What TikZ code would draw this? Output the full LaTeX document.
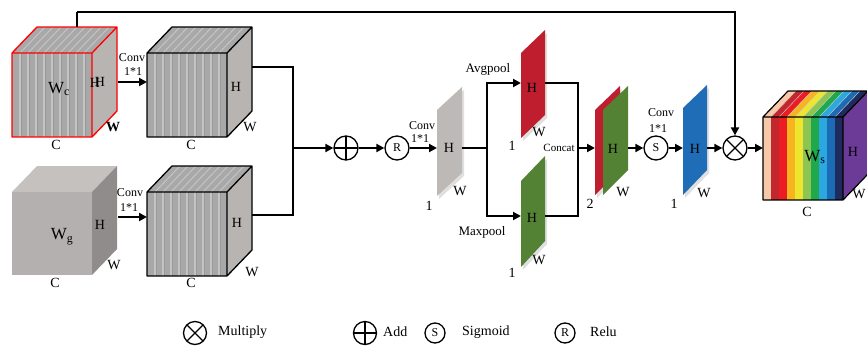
\documentclass[tikz,border=0pt]{standalone}
\usepackage{fontspec}
\setmainfont{Liberation Serif}
\usetikzlibrary{arrows.meta,shadows}

\definecolor{slicegray}{HTML}{A8A8A8}
\definecolor{slicelight}{HTML}{C4C4C4}
\definecolor{slicedark}{HTML}{9A9A9A}
\definecolor{sidegray}{HTML}{B7B4B2}
\definecolor{plainfront}{HTML}{B3B0AF}
\definecolor{plaintop}{HTML}{C4C1BF}
\definecolor{plainside}{HTML}{8F8C8B}
\definecolor{mapgray}{HTML}{BDB9B7}
\definecolor{poolred}{HTML}{BE1E2D}
\definecolor{poolgreen}{HTML}{548235}
\definecolor{convblue}{HTML}{1F6DB6}
\definecolor{peach}{HTML}{F7C9A9}
\definecolor{darkred}{HTML}{C1272D}
\definecolor{brightred}{HTML}{EC1C24}
\definecolor{amber}{HTML}{F6B51E}
\definecolor{lemon}{HTML}{EEE52E}
\definecolor{leaf}{HTML}{8DC553}
\definecolor{grass}{HTML}{1FA84C}
\definecolor{sky}{HTML}{2BA8E0}
\definecolor{ocean}{HTML}{1C6BB5}
\definecolor{navy}{HTML}{1F2B5E}
\definecolor{violet}{HTML}{6C3A97}

\begin{document}
\begin{tikzpicture}[x=1pt, y=-1pt,
    conn/.style={line width=2.4pt},
    flow/.style={line width=2.4pt, -{Triangle[length=8pt,width=8pt]}},
    op/.style={circle, draw, line width=1.3pt, minimum size=24pt, inner sep=0pt, fill=white,
               font=\fontsize{12}{12}\selectfont},
    mulop/.style={op, path picture={\draw[line width=1.2pt]
        (path picture bounding box.north west) -- (path picture bounding box.south east)
        (path picture bounding box.south west) -- (path picture bounding box.north east);}},
    addop/.style={op, path picture={\draw[line width=1.2pt]
        (path picture bounding box.north) -- (path picture bounding box.south)
        (path picture bounding box.west) -- (path picture bounding box.east);}},
    lbl/.style={font=\fontsize{14}{14}\selectfont, inner sep=0pt},
    small/.style={font=\fontsize{12}{12}\selectfont, inner sep=0pt},
    map/.style={drop shadow={opacity=0.25, shadow xshift=2pt, shadow yshift=-3pt}}]
    \useasboundingbox (0,0) rectangle (867,346);

    % Sliced cubes
    \foreach \x/\y/\edge in {12/53/red, 147/53/black, 147/192/black} {
        \fill[slicegray] (\x,\y) -- (\x+25,\y-26) -- (\x+105,\y-26) -- (\x+80,\y) -- cycle;
        \foreach \i in {1,...,9}
            \draw[slicelight, line width=1pt] (\x+8*\i,\y) -- (\x+8*\i+25,\y-26);
        \fill[sidegray] (\x+80,\y) -- (\x+105,\y-26) -- (\x+105,\y+58) -- (\x+80,\y+84) -- cycle;
        \fill[slicegray] (\x,\y) rectangle (\x+80,\y+84);
        \foreach \i in {1,...,9} {
            \draw[slicelight, line width=1.2pt] (\x+8*\i,\y) -- (\x+8*\i,\y+84);
            \draw[slicedark, line width=0.5pt] (\x+8*\i+1.3,\y) -- (\x+8*\i+1.3,\y+84);
        }
        \draw[\edge, line width=1.3pt, line join=round] (\x,\y) rectangle (\x+80,\y+84)
            (\x,\y) -- (\x+25,\y-26) -- (\x+105,\y-26) -- (\x+105,\y+58) -- (\x+80,\y+84)
            (\x+80,\y) -- (\x+105,\y-26);
    }

    % Plain cube
    \fill[plaintop] (12,192) -- (37,166) -- (117,166) -- (92,192) -- cycle;
    \fill[plainside] (92,192) -- (117,166) -- (117,249) -- (92,275) -- cycle;
    \fill[plainfront] (12,192) rectangle (92,275);

    % Cube labels
    \node[lbl, font=\fontsize{17}{17}\selectfont] (wc) at (59,89) {W\textsubscript{c}};
    \node[lbl] (wc-h) at (95,83) {H};
    \node[lbl] (wc-h2) at (100,82) {H};
    \node[lbl, font=\fontsize{14}{14}\selectfont\bfseries] (wc-w) at (113,127) {W};
    \node[lbl] (wc-c) at (56,145) {C};
    \node[lbl] (c2-h) at (236,87) {H};
    \node[lbl] (c2-w) at (250,127) {W};
    \node[lbl] (c2-c) at (191,145) {C};
    \node[lbl, font=\fontsize{17}{17}\selectfont] (wg) at (62,237) {W\textsubscript{g}};
    \node[lbl] (wg-h) at (100,225) {H};
    \node[lbl] (wg-w) at (114,265) {W};
    \node[lbl] (wg-c) at (55,283) {C};
    \node[lbl] (c4-h) at (237,223) {H};
    \node[lbl] (c4-w) at (252,272) {W};
    \node[lbl] (c4-c) at (191,283) {C};

    % Conv 1*1 on the inputs
    \node[small] (conv1) at (132,58) {Conv};
    \node[small] (k1) at (133,72) {1*1};
    \node[small] (conv2) at (130,193) {Conv};
    \node[small] (k2) at (129,208) {1*1};

    % Feature maps
    \fill[mapgray, map] (437,110) -- (462,87) -- (462,173) -- (437,196) -- cycle;
    \fill[poolred, map] (521,53) -- (545,30) -- (545,115) -- (521,138) -- cycle;
    \fill[poolgreen, map] (521,181) -- (545,156) -- (545,241) -- (521,267) -- cycle;
    \fill[poolred, map] (595,110) -- (620,86) -- (620,170) -- (595,195) -- cycle;
    \fill[poolgreen] (603,110) -- (628,86) -- (628,170) -- (603,195) -- cycle;
    \fill[convblue, map] (683,108) -- (707,85) -- (707,170) -- (683,195) -- cycle;

    \node[lbl] (grey-h) at (449,148) {H};
    \node[lbl] (grey-w-lbl) at (460,191) {W};
    \node[lbl] (grey-n) at (429,206) {1};
    \node[lbl] (avg-h) at (532,88) {H};
    \node[lbl] (avg-w) at (539,132) {W};
    \node[lbl] (avg-n) at (512,146) {1};
    \node[lbl] (max-h) at (532,218) {H};
    \node[lbl] (max-w) at (539,260) {W};
    \node[lbl] (max-n) at (512,273) {1};
    \node[lbl] (cat-h) at (613,149) {H};
    \node[lbl] (cat-w) at (623,192) {W};
    \node[lbl] (cat-n) at (590,204) {2};
    \node[lbl] (blue-h) at (695,149) {H};
    \node[lbl] (blue-w-lbl) at (704,193) {W};
    \node[lbl] (blue-n) at (674,204) {1};

    \node[small] (conv3) at (422,126) {Conv};
    \node[small] (k3) at (420,139) {1*1};
    \node[small, font=\fontsize{13}{13}\selectfont] (avgpool) at (488,69) {Avgpool};
    \node[small, font=\fontsize{13}{13}\selectfont] (maxpool) at (482,232) {Maxpool};
    \node[small, font=\fontsize{11}{11}\selectfont] (concat) at (559,148) {Concat};
    \node[small] (conv4) at (661,113) {Conv};
    \node[small] (k4) at (658,129) {1*1};

    % Rainbow cube
    \foreach \c [count=\i from 0] in {peach, darkred, brightred, amber, lemon, leaf, grass, sky, ocean, navy} {
        \fill[\c] (763+8*\i,117) -- (788+8*\i,91) -- (796+8*\i,91) -- (771+8*\i,117) -- cycle;
        \fill[\c] (763+8*\i,117) rectangle (771+8*\i,200);
        \draw[white!60!gray, line width=0.4pt] (763+8*\i,117) -- (788+8*\i,91);
    }
    \fill[violet] (843,117) -- (868,91) -- (868,174) -- (843,200) -- cycle;
    \draw[line width=1.2pt, line join=round] (763,117) rectangle (843,200)
        (763,117) -- (788,91) -- (868,91) (843,117) -- (868,91) (843,200) -- (868,174);
    \node[lbl, font=\fontsize{17}{17}\selectfont] (ws) at (815,157) {W\textsubscript{s}};
    \node[lbl] (ws-h) at (853,152) {H};
    \node[lbl] (ws-w) at (859,194) {W};
    \node[lbl] (ws-c) at (807,212) {C};

    % Operators
    \node[addop] (add) at (346,148) {};
    \node[op] (relu) at (397,148) {R};
    \node[op] (sig) at (656,148) {S};
    \node[mulop] (mul) at (735,148) {};

    % Connection points
    \coordinate (wc-out) at (118,82);
    \coordinate (c2-in) at (147,82);
    \coordinate (wg-out) at (118,217);
    \coordinate (c4-in) at (147,217);
    \coordinate (c2-out) at (252,67);
    \coordinate (c4-out) at (252,215);
    \coordinate (merge) at (293,148);
    \coordinate (grey-w) at (437,148);
    \coordinate (grey-e) at (462,148);
    \coordinate (split) at (487,148);
    \coordinate (red-w) at (521,83);
    \coordinate (red-e) at (545,83);
    \coordinate (green-w) at (521,216);
    \coordinate (green-e) at (545,216);
    \coordinate (join) at (578,148);
    \coordinate (pair-w) at (595,148);
    \coordinate (pair-e) at (628,148);
    \coordinate (blue-w) at (683,148);
    \coordinate (blue-e) at (707,148);
    \coordinate (ws-in) at (763,148);
    \coordinate (wc-top) at (77,27);
    \coordinate (skip) at (77,12);

    % Connections
    \draw[flow] (wc-out) -- (c2-in);
    \draw[flow] (wg-out) -- (c4-in);
    \draw[conn] (c2-out) -| (merge);
    \draw[conn] (c4-out) -| (merge);
    \draw[flow] (merge) -- (add);
    \draw[flow] (add) -- (relu);
    \draw[flow] (relu) -- (grey-w);
    \draw[conn] (grey-e) -- (split);
    \draw[flow] (split) |- (red-w);
    \draw[flow] (split) |- (green-w);
    \draw[conn] (red-e) -| (join);
    \draw[conn] (green-e) -| (join);
    \draw[flow] (join) -- (pair-w);
    \draw[flow] (pair-e) -- (sig);
    \draw[flow] (sig) -- (blue-w);
    \draw[flow] (blue-e) -- (mul);
    \draw[flow] (mul) -- (ws-in);
    \draw[conn] (wc-top) -- (skip);
    \draw[flow] (skip) -| (mul);

    % Legend
    \node[mulop, minimum size=23pt] (key-mul) at (195,333) {};
    \node[lbl, anchor=west] (key-mul-t) at (218,332) {Multiply};
    \node[addop, minimum size=23pt] (key-add) at (365,333) {};
    \node[lbl, anchor=west] (key-add-t) at (383,332) {Add};
    \node[op, minimum size=20pt] (key-sig) at (435,333) {S};
    \node[lbl, anchor=west] (key-sig-t) at (462,332) {Sigmoid};
    \node[op, minimum size=20pt] (key-relu) at (565,333) {R};
    \node[lbl, anchor=west] (key-relu-t) at (590,332) {Relu};
\end{tikzpicture}
\end{document}
